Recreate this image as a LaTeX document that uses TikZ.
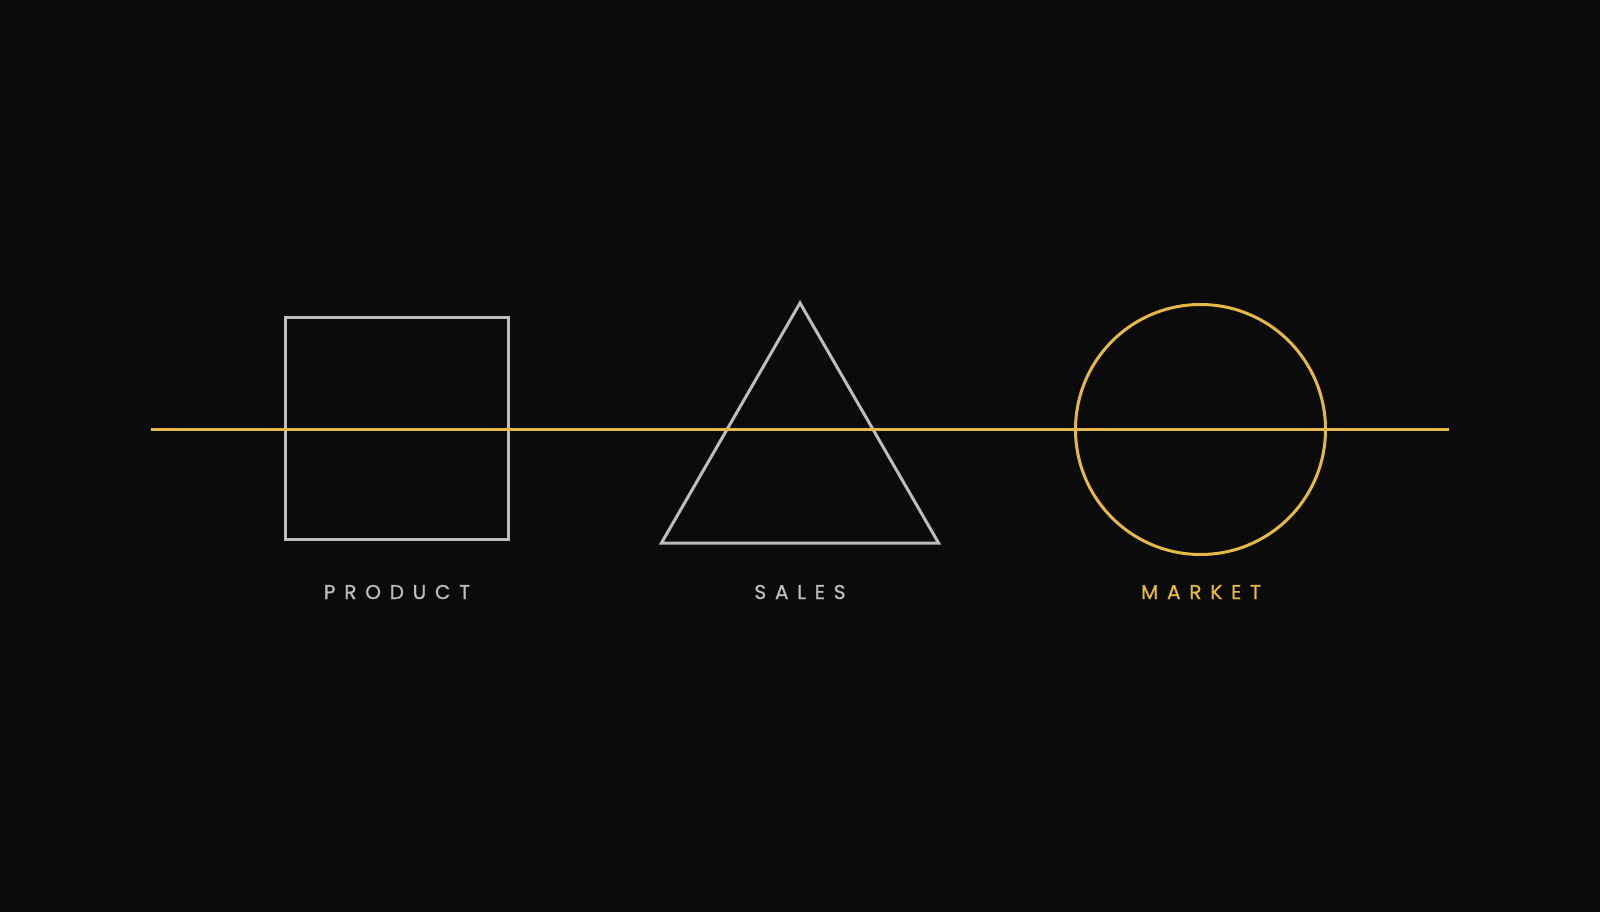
\documentclass[tikz,border=0pt]{standalone}
\usepackage{fontspec}
\setmainfont{Poppins}
\newfontfamily\capfont[FakeBold=1,LetterSpace=44]{Poppins}
\usetikzlibrary{shapes.geometric}
\definecolor{bgcol}{HTML}{0B0B0B}
\definecolor{shapegray}{HTML}{BDBDBD}
\definecolor{gold}{HTML}{E6B845}
\tikzset{
  outline/.style={draw=shapegray, line width=3pt, inner sep=0pt, outer sep=0pt},
  caption/.style={anchor=base, font=\capfont\fontsize{20}{20}\selectfont},
}
\begin{document}
\begin{tikzpicture}[x=1pt,y=-1pt]
      \fill[bgcol] (0,0) rectangle (1600,912);
      \node[outline, rectangle, minimum width=223pt, minimum height=222pt] (product) at (396.5,428) {};
      \node[outline, regular polygon, regular polygon sides=3, minimum size=320pt] (sales) at (800,463) {};
      \node[outline, draw=gold, circle, minimum size=250pt] (market) at (1200.5,429.5) {};
      \node[caption, text=shapegray] (productlabel) at (397,599) {PRODUCT};
      \node[caption, text=shapegray] (saleslabel) at (800,599) {SALES};
      \node[caption, text=gold] (marketlabel) at (1201,599) {MARKET};
      \coordinate (start) at (151,429);
      \coordinate (end) at (1449,429);
      \draw[gold, line width=3pt] (start) -- (end);
    \end{tikzpicture}
\end{document}
